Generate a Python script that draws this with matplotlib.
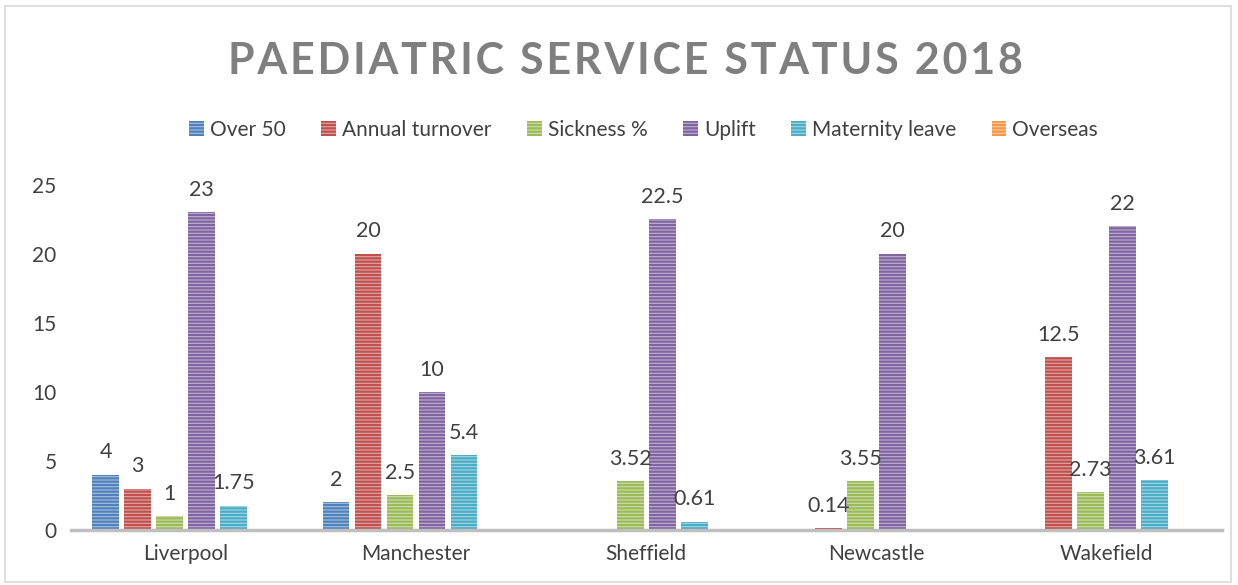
import matplotlib.pyplot as plt
import matplotlib.patches as mpatches
import numpy as np

plt.rcParams['font.family'] = ['Lato', 'DejaVu Sans']
plt.rcParams['hatch.linewidth'] = 1.6

cities = ['Liverpool', 'Manchester', 'Sheffield', 'Newcastle', 'Wakefield']
series = ['Over 50', 'Annual turnover', 'Sickness %', 'Uplift', 'Maternity leave', 'Overseas']
over_50 = [4, 2, None, None, None]
annual_turnover = [3, 20, None, 0.14, 12.5]
sickness = [1, 2.5, 3.52, 3.55, 2.73]
uplift = [23, 10, 22.5, 20, 22]
maternity = [1.75, 5.4, 0.61, None, 3.61]
overseas = [None, None, None, None, None]
colors = ['#4f81bd', '#c0504d', '#9bbb59', '#8064a2', '#4bacc6', '#f79646']
light = ['#a7c0de', '#e0a8a6', '#cddcac', '#bfb1d0', '#a5d5e2', '#fbcaa2']

data = [over_50, annual_turnover, sickness, uplift, maternity, overseas]

fig = plt.figure(figsize=(12.38, 5.85), dpi=100)
ax = fig.add_axes([0.057, 0.094, 0.93, 0.59])
fig.patches.append(mpatches.Rectangle((0.004, 0.005), 0.99, 0.985, transform=fig.transFigure,
                                      fill=False, edgecolor='#d9d9d9', linewidth=1.2))

x = np.arange(len(cities))
width = 0.139
step = 0.139
for i, (name, vals) in enumerate(zip(series, data)):
    pos = x + (i - 2.5) * step
    heights = [v if v is not None else 0 for v in vals]
    ax.bar(pos, heights, width * 0.84, color=light[i], edgecolor=colors[i],
           hatch='-----', linewidth=0, label=name)
    for p, v in zip(pos, vals):
        if v is not None:
            ax.text(p, v + 0.9, f'{v:g}', ha='center', va='bottom', fontsize=15.5, color='#404040')

ax.set_xlim(-0.5, 4.5)
ax.set_ylim(0, 25)
ax.set_yticks([0, 5, 10, 15, 20, 25])
ax.set_xticks(x)
ax.set_xticklabels(cities)
ax.tick_params(axis='both', length=0, labelsize=15, colors='#404040', pad=10)
for s in ['top', 'right', 'left']:
    ax.spines[s].set_visible(False)
ax.spines['bottom'].set_color('#bfbfbf')
ax.spines['bottom'].set_linewidth(2.5)

title = 'PAEDIATRIC SERVICE STATUS 2018'
fig.text(0.505, 0.895, '\u200a'.join(title), ha='center', va='center',
         fontsize=31, fontweight='bold', color='#7f7f7f')

handles = [mpatches.Patch(facecolor=light[i], edgecolor=colors[i], hatch='-----', linewidth=0)
           for i in range(len(series))]
fig.legend(handles, series, loc='center', bbox_to_anchor=(0.52, 0.778), ncol=6, frameon=False,
           fontsize=15, handlelength=0.7, handleheight=0.7, handletextpad=0.3, columnspacing=1.7,
           labelcolor='#404040')

fig.savefig('out.png', dpi=100)
